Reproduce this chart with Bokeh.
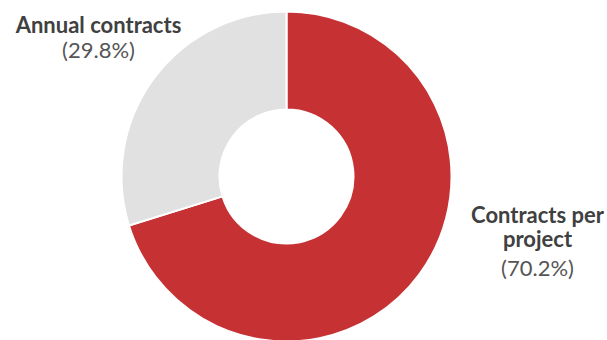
import math
from bokeh.plotting import figure
from bokeh.models import ColumnDataSource, Range1d
from bokeh.core.properties import value
from bokeh.embed import file_html
from bokeh.resources import INLINE

categories = ["Contracts per project", "Annual contracts"]
shares = [70.2, 29.8]
colors = ["#C63234", "#E1E1E1"]
label_names = ["Contracts per\nproject", "Annual contracts"]
label_pcts = ["(70.2%)", "(29.8%)"]

W, H = 607, 340
p = figure(width=W, height=H, output_backend="svg", toolbar_location=None,
           x_range=Range1d(0, W), y_range=Range1d(0, H), min_border=0)
p.axis.visible = False
p.grid.visible = False
p.outline_line_color = None
p.background_fill_color = "white"

cx, cy = 286, H - 176
total = sum(shares)
starts, ends = [], []
a = math.pi / 2
for s in shares:
    starts.append(a)
    a -= s / total * 2 * math.pi
    ends.append(a)

src = ColumnDataSource(dict(cat=categories, start=starts, end=ends, color=colors))
p.annular_wedge(x=cx, y=cy, inner_radius=67, outer_radius=165,
                start_angle="start", end_angle="end", direction="clock",
                fill_color="color", line_color="white", line_width=2, source=src)

font = value("Lato")
# label placements (layout)
name_pos = [(537, H - 214), (98, H - 24)]
pct_pos = [(537, H - 267), (98, H - 49)]
for i in range(2):
    nx, ny = name_pos[i]
    lines = label_names[i].split("\n")
    for j, ln in enumerate(lines):
        p.text(x=[nx], y=[ny - j * 24], text=[ln], text_font=font, text_font_size="22px",
               text_font_style="bold", text_color="#404040", text_align="center",
               text_baseline="alphabetic")
    px, py = pct_pos[i]
    p.text(x=[px], y=[py], text=[label_pcts[i]], text_font=font, text_font_size="22px",
           text_color="#555555", text_align="center", text_baseline="alphabetic")

open("out.html", "w").write(file_html(p, INLINE))
